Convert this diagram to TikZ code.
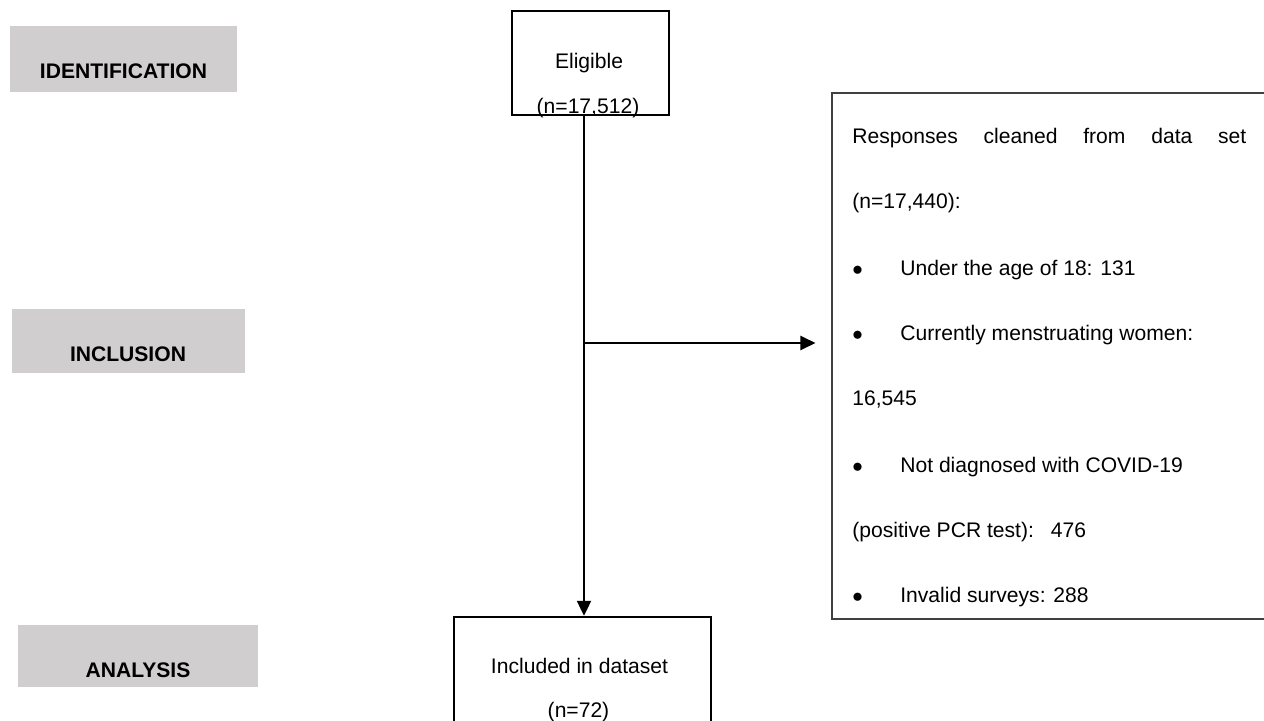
\documentclass[tikz,border=0pt]{standalone}
\usepackage{fontspec}
\setmainfont{Liberation Sans}
\usepackage{xcolor}
\usetikzlibrary{arrows.meta,positioning}
\definecolor{stagegray}{RGB}{208,206,206}
\tikzset{
  stage/.style={fill=stagegray,draw=none,inner sep=0pt},
  stagetxt/.style={anchor=base,inner sep=0pt,font=\fontsize{12pt}{14pt}\selectfont\bfseries},
  flowbox/.style={draw=black,line width=1.35pt,inner sep=0pt},
  txt/.style={anchor=base,inner sep=0pt,font=\fontsize{12pt}{14pt}\selectfont},
  arr/.style={line width=1.2pt,-{Triangle[length=3mm,width=2.8mm]}}
}
\newcommand{\itembul}{\makebox[0.96cm][l]{$\bullet$}}

\begin{document}
\begin{tikzpicture}
\useasboundingbox (0,0) rectangle (25.28,-14.4);
% Stages
\node[stage,minimum width=4.54cm,minimum height=1.32cm] (ident) at (2.47,-1.18) {};
\node[stagetxt] (identtxt) at (2.47,-1.56) {IDENTIFICATION};
\node[stage,minimum width=4.66cm,minimum height=1.28cm] (inclu) at (2.57,-6.82) {};
\node[stagetxt] (inclutxt) at (2.56,-7.22) {INCLUSION};
\node[stage,minimum width=4.80cm,minimum height=1.24cm] (analy) at (2.76,-13.12) {};
\node[stagetxt] (analytxt) at (2.76,-13.54) {ANALYSIS};
% Flow boxes
\node[flowbox,minimum width=3.14cm,minimum height=2.08cm] (elig) at (11.81,-1.26) {};
\node[txt] (eligtxt) at (11.78,-1.36) {Eligible};
\node[txt] (elign) at (11.76,-2.26) {(n=17,512)};
\node[flowbox,minimum width=5.14cm,minimum height=2.11cm] (incl) at (11.65,-13.395) {};
\node[txt] (incltxt) at (11.59,-13.46) {Included in dataset};
\node[txt] (incln) at (11.57,-14.34) {(n=72)};
% Excluded
\node[draw=black!75,line width=0.6pt,inner sep=0pt,minimum width=8.66cm,minimum height=10.52cm] (excl) at (20.97,-7.12) {};
\node[txt,anchor=base west] (resp) at (17.04,-2.86) {\makebox[7.88cm][s]{Responses\hfill cleaned\hfill from\hfill data\hfill set}};
\node[txt,anchor=base west] (respn) at (17.04,-4.16) {(n=17,440):};
\node[txt,anchor=base west] (age) at (17.04,-5.50) {\itembul Under the age of 18: 131};
\node[txt,anchor=base west] (mens) at (17.04,-6.80) {\itembul Currently menstruating women:};
\node[txt,anchor=base west] (mensn) at (17.04,-8.10) {16,545};
\node[txt,anchor=base west] (covid) at (17.04,-9.44) {\itembul Not diagnosed with COVID-19};
\node[txt,anchor=base west] (pcr) at (17.04,-10.74) {(positive PCR test):\hspace{0.34cm}476};
\node[txt,anchor=base west] (invalid) at (17.04,-12.04) {\itembul Invalid surveys: 288};
% Arrows
\coordinate (split) at (11.68,-6.86);
\draw[arr] (split |- elig.south) -- (split |- incl.north);
\draw[arr,shorten >=0.32cm] (split) -- (excl.west |- split);
\end{tikzpicture}
\end{document}
